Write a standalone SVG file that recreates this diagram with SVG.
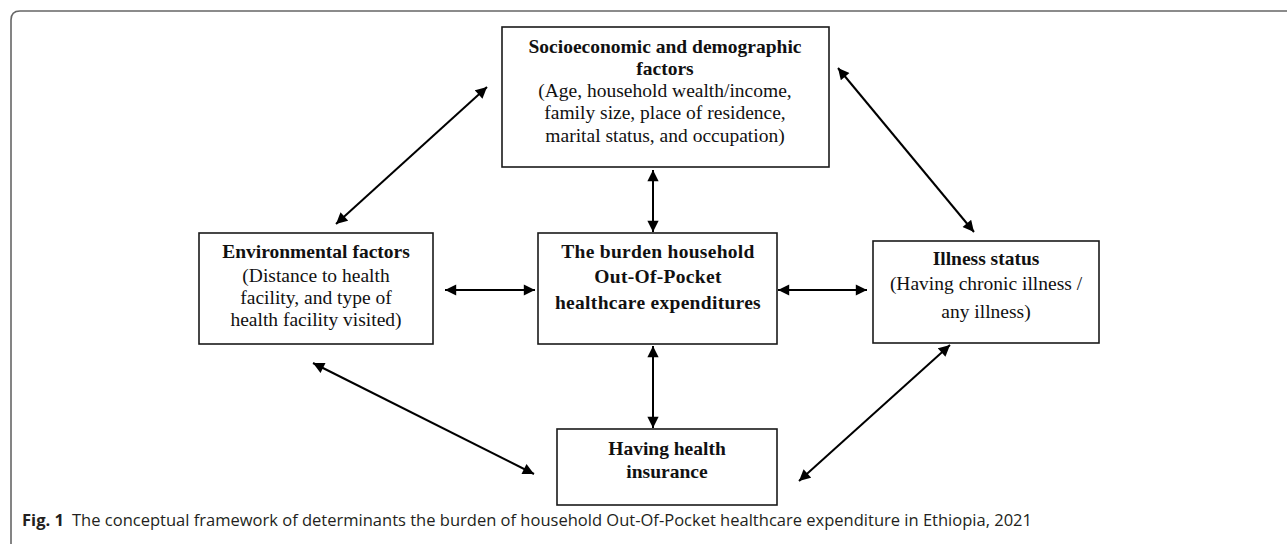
<svg xmlns="http://www.w3.org/2000/svg" width="1287" height="544" viewBox="0 0 1287 544">
<style>
.box{fill:#fff;stroke:#1a1a1a;stroke-width:1.6}
.t{font-family:"Liberation Serif","Times New Roman",serif;font-size:19.5px;fill:#111;text-anchor:middle}
.b{font-weight:bold}
.c{stroke:#000;stroke-width:2;fill:none;marker-start:url(#ah);marker-end:url(#ah)}
.cap{font-family:"Open Sans","Liberation Sans",sans-serif;font-size:16px;fill:#231f20}
</style>
<defs>
<marker id="ah" viewBox="0 0 10 10" refX="10" refY="5" markerWidth="6.5" markerHeight="5.6" markerUnits="strokeWidth" orient="auto-start-reverse">
<path d="M0,0 L10,5 L0,10 z" fill="#000"/>
</marker>
</defs>
<path d="M11,544 V20 Q11,11 20,11 H1287" fill="none" stroke="#666" stroke-width="1.6"/>
<g id="connectors">
<line class="c" x1="336" y1="224" x2="487" y2="87"/>
<line class="c" x1="838" y1="68" x2="974" y2="232"/>
<line class="c" x1="653" y1="170" x2="653" y2="232"/>
<line class="c" x1="445" y1="290" x2="535" y2="290"/>
<line class="c" x1="778" y1="290" x2="867" y2="290"/>
<line class="c" x1="653" y1="346" x2="653" y2="428"/>
<line class="c" x1="313" y1="363" x2="534" y2="474"/>
<line class="c" x1="950" y1="345" x2="799" y2="481"/>
</g>
<g id="socio">
<rect class="box" x="502" y="27" width="327" height="140"/>
<text class="t b" x="665" y="53">Socioeconomic and demographic</text>
<text class="t b" x="665" y="75">factors</text>
<text class="t" x="665" y="97">(Age, household wealth/income,</text>
<text class="t" x="665" y="119">family size, place of residence,</text>
<text class="t" x="665" y="142">marital status, and occupation)</text>
</g>
<g id="env">
<rect class="box" x="199" y="233" width="234" height="111"/>
<text class="t b" x="316" y="258">Environmental factors</text>
<text class="t" x="316" y="282">(Distance to health</text>
<text class="t" x="316" y="304">facility, and type of</text>
<text class="t" x="316" y="326">health facility visited)</text>
</g>
<g id="center">
<rect class="box" x="538" y="233" width="239" height="111"/>
<text class="t b" x="658" y="258" letter-spacing="0.3">The burden household</text>
<text class="t b" x="658" y="283" letter-spacing="0.3">Out-Of-Pocket</text>
<text class="t b" x="658" y="309" letter-spacing="0.3">healthcare expenditures</text>
</g>
<g id="illness">
<rect class="box" x="873" y="241" width="226" height="102"/>
<text class="t b" x="986" y="265">Illness status</text>
<text class="t" x="986" y="290">(Having chronic illness /</text>
<text class="t" x="986" y="318">any illness)</text>
</g>
<g id="insurance">
<rect class="box" x="557" y="429" width="220" height="76"/>
<text class="t b" x="667" y="455">Having health</text>
<text class="t b" x="667" y="478">insurance</text>
</g>
<g id="caption">
<text class="cap" x="22" y="526" font-weight="bold" textLength="42" lengthAdjust="spacingAndGlyphs">Fig. 1</text>
<text class="cap" x="72" y="526" textLength="960" lengthAdjust="spacingAndGlyphs">The conceptual framework of determinants the burden of household Out-Of-Pocket healthcare expenditure in Ethiopia, 2021</text>
</g>
</svg>
